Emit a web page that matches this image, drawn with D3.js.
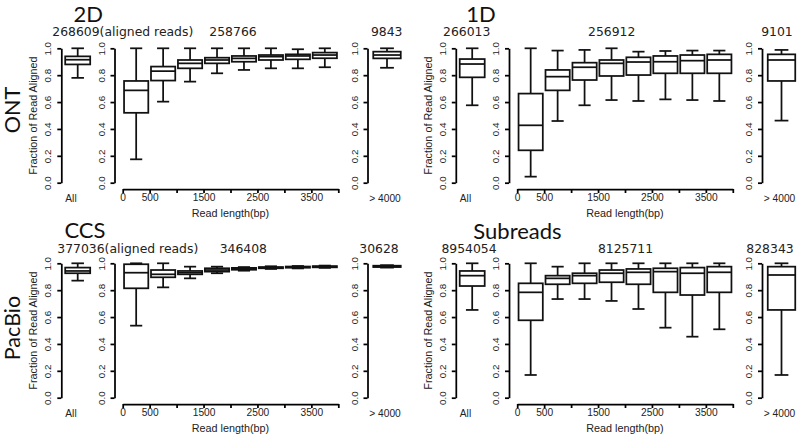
<!DOCTYPE html>
<html><head><meta charset="utf-8">
<script src="https://cdn.jsdelivr.net/npm/d3@7/dist/d3.min.js"></script>
<style>
body{margin:0;background:#fff;}
svg{display:block;}
.tk text{font-family:"Liberation Sans",Arial,sans-serif;}
</style></head>
<body>
<svg id="c" width="798" height="435"></svg>
<script>
// ---------------- DATA ----------------
const panelNames = ["2D", "1D", "CCS", "Subreads"];
const platformNames = ["ONT", "PacBio"];
const groupLabels = ["All", "0-500", "500-1000", "1000-1500", "1500-2000", "2000-2500", "2500-3000", "3000-3500", "3500-4000", "> 4000"];
const binCenters = [250, 750, 1250, 1750, 2250, 2750, 3250, 3750];
const yTicks = [0, 0.2, 0.4, 0.6, 0.8, 1.0];
const xTicks = [0, 500, 1000, 1500, 2000, 2500, 3000, 3500, 4000];
const xTickLabels = ["0", "500", "", "1500", "", "2500", "", "3500", ""];

// each row: [lower whisker, Q1, median, Q3, upper whisker]; All, 8 length bins, >4000
const stats2D = [
  [0.78, 0.88, 0.915, 0.94, 1.0],
  [0.174, 0.52, 0.687, 0.757, 1.0],
  [0.603, 0.76, 0.83, 0.864, 1.0],
  [0.752, 0.851, 0.888, 0.913, 1.0],
  [0.814, 0.888, 0.913, 0.93, 1.0],
  [0.839, 0.9, 0.925, 0.943, 1.0],
  [0.851, 0.913, 0.938, 0.95, 1.0],
  [0.851, 0.918, 0.943, 0.955, 0.993],
  [0.859, 0.926, 0.95, 0.968, 1.0],
  [0.855, 0.925, 0.95, 0.975, 1.0]
];
const stats1D = [
  [0.576, 0.784, 0.883, 0.92, 1.0],
  [0.045, 0.241, 0.427, 0.663, 1.0],
  [0.459, 0.687, 0.789, 0.839, 0.983],
  [0.576, 0.764, 0.859, 0.893, 0.988],
  [0.615, 0.794, 0.888, 0.913, 1.0],
  [0.608, 0.801, 0.898, 0.933, 0.975],
  [0.62, 0.814, 0.9, 0.943, 0.98],
  [0.615, 0.814, 0.908, 0.95, 0.983],
  [0.608, 0.814, 0.913, 0.955, 0.983],
  [0.462, 0.757, 0.913, 0.955, 0.988]
];
const statsCCS = [
  [0.871, 0.926, 0.943, 0.968, 1.0],
  [0.536, 0.814, 0.93, 0.993, 1.0],
  [0.821, 0.896, 0.918, 0.95, 1.0],
  [0.888, 0.918, 0.93, 0.943, 0.975],
  [0.926, 0.938, 0.95, 0.963, 0.975],
  [0.945, 0.952, 0.96, 0.966, 0.972],
  [0.958, 0.963, 0.968, 0.972, 0.978],
  [0.962, 0.967, 0.972, 0.976, 0.98],
  [0.966, 0.97, 0.975, 0.979, 0.983],
  [0.968, 0.972, 0.978, 0.982, 0.986]
];
const statsSubreads = [
  [0.653, 0.831, 0.908, 0.943, 1.0],
  [0.169, 0.576, 0.784, 0.851, 1.0],
  [0.734, 0.844, 0.888, 0.908, 0.975],
  [0.734, 0.851, 0.908, 0.926, 1.0],
  [0.72, 0.859, 0.926, 0.95, 1.0],
  [0.66, 0.844, 0.933, 0.958, 1.0],
  [0.521, 0.784, 0.938, 0.963, 1.0],
  [0.454, 0.764, 0.926, 0.968, 1.0],
  [0.509, 0.784, 0.933, 0.975, 1.0],
  [0.169, 0.653, 0.913, 0.975, 1.0]
];
const counts2D = ["268609(aligned reads)", "258766", "9843"];
const counts1D = ["266013", "256912", "9101"];
const countsCCS = ["377036(aligned reads)", "346408", "30628"];
const countsSubreads = ["8954054", "8125711", "828343"];

// ---------------- LAYOUT ----------------
const svg = d3.select("#c");
const panelStats = [stats2D, stats1D, statsCCS, statsSubreads];
const panelCounts = [counts2D, counts1D, countsCCS, countsSubreads];
const colOff = [0, 394.5];
const rowOff = [0, 215];
const titlePos = [[88.3, 21.5], [481, 21.5], [85, 238], [517.5, 238.5]];
const countPos = [
  [[52.3, "start"], [233, "middle"], [386.7, "middle"]],
  [[466.7, "middle"], [611.7, "middle"], [777, "middle"]],
  [[57.3, "start"], [243.3, "middle"], [379, "middle"]],
  [[469, "middle"], [625.5, "middle"], [770, "middle"]]
];
const countBase = [36.3, 36.3, 253, 253];
const AX = "Liberation Sans, Arial, sans-serif";
const SW = 1.75;

function drawBox(g, cx, w, s, y) {
  const [lo, q1, md, q3, hi] = s;
  const cap = w / 2;
  g.append("line").attr("x1", cx).attr("x2", cx).attr("y1", y(q3)).attr("y2", y(hi));
  g.append("line").attr("x1", cx).attr("x2", cx).attr("y1", y(q1)).attr("y2", y(lo));
  g.append("line").attr("x1", cx - cap / 2).attr("x2", cx + cap / 2).attr("y1", y(hi)).attr("y2", y(hi));
  g.append("line").attr("x1", cx - cap / 2).attr("x2", cx + cap / 2).attr("y1", y(lo)).attr("y2", y(lo));
  g.append("rect").attr("x", cx - w / 2).attr("width", w)
    .attr("y", y(q3)).attr("height", Math.max(0.01, y(q1) - y(q3))).attr("fill", "#fff");
  g.append("line").attr("x1", cx - w / 2).attr("x2", cx + w / 2).attr("y1", y(md)).attr("y2", y(md));
}

function yAxis(g, x, y) {
  const a = g.append("g").attr("class", "tk").attr("transform", `translate(${x},0)`)
    .call(d3.axisLeft(y).tickValues(yTicks).tickSize(4).tickSizeOuter(0).tickFormat(d3.format(".1f")));
  a.select(".domain").attr("stroke-width", SW);
  a.selectAll(".tick line").attr("stroke-width", SW);
  a.selectAll(".tick text").attr("x", null).attr("dy", null)
    .attr("transform", "translate(-10,0) rotate(-90)")
    .attr("text-anchor", "middle").attr("font-size", 9.8).attr("fill", "#222").attr("font-family", AX);
}

panelStats.forEach((stats, p) => {
  const cx0 = colOff[p % 2], ry = rowOff[Math.floor(p / 2)];
  const g = svg.append("g");
  const y = d3.scaleLinear().domain([0, 1]).range([182.7 + ry, 48.3 + ry]);
  const xMid = d3.scaleLinear().domain([0, 4000]).range([122.7 + cx0, 338.3 + cx0]);
  const xAll = d3.scalePoint().domain([groupLabels[0]]).range([77.7 + cx0, 77.7 + cx0]);
  const xBig = d3.scalePoint().domain([groupLabels[9]]).range([387 + cx0, 387 + cx0]);

  // y axes
  yAxis(g, 61.3 + cx0, y);
  yAxis(g, 114.5 + cx0, y);
  yAxis(g, 367.5 + cx0, y);

  // x axis for middle panel
  const xa = g.append("g").attr("class", "tk").attr("transform", `translate(0,${189 + ry})`)
    .call(d3.axisBottom(xMid).tickValues(xTicks).tickSize(4).tickSizeOuter(0)
      .tickFormat((d, i) => xTickLabels[i]));
  xa.select(".domain").attr("stroke-width", SW);
  xa.selectAll(".tick line").attr("stroke-width", SW);
  xa.selectAll(".tick text").attr("y", 4.5).attr("font-size", 10.2).attr("fill", "#222").attr("font-family", AX);

  // group labels
  g.append("text").attr("x", 71 + cx0).attr("y", 201.5 + ry).attr("text-anchor", "middle")
    .attr("font-family", AX).attr("font-size", 10.2).attr("fill", "#222").text(groupLabels[0]);
  g.append("text").attr("x", 385 + cx0).attr("y", 201.5 + ry).attr("text-anchor", "middle")
    .attr("font-family", AX).attr("font-size", 10.2).attr("fill", "#222").text(groupLabels[9]);
  g.append("text").attr("x", xMid(2000)).attr("y", 217 + ry).attr("text-anchor", "middle")
    .attr("font-family", AX).attr("font-size", 10.8).attr("fill", "#222").text("Read length(bp)");
  g.append("text").attr("transform", `translate(${61.3 + cx0 - 24},${115.5 + ry}) rotate(-90)`)
    .attr("text-anchor", "middle").attr("font-family", AX).attr("font-size", 10.8).attr("fill", "#222")
    .text("Fraction of Read Aligned");

  // boxes
  const bg = g.append("g").attr("stroke", "#111").attr("stroke-width", SW).attr("fill", "none");
  drawBox(bg, xAll(groupLabels[0]), 25, stats[0], y);
  binCenters.forEach((c, i) => drawBox(bg, xMid(c), xMid(450) - xMid(0), stats[i + 1], y));
  drawBox(bg, xBig(groupLabels[9]), 27.5, stats[9], y);

  // title
  g.append("text").attr("x", titlePos[p][0]).attr("y", titlePos[p][1]).attr("text-anchor", "middle")
    .attr("font-family", "Lato, 'Open Sans', sans-serif").attr("font-size", 22).attr("fill", "#111")
    .text(panelNames[p]);
  // counts
  panelCounts[p].forEach((t, i) => {
    g.append("text").attr("x", countPos[p][i][0]).attr("y", countBase[p])
      .attr("text-anchor", countPos[p][i][1]).attr("font-family", "DejaVu Sans, sans-serif")
      .attr("font-size", 12.4).attr("fill", "#222").text(t);
  });
});

// platform labels
svg.append("text").attr("transform", "translate(19.5,110) rotate(-90)").attr("text-anchor", "middle")
  .attr("font-family", "Lato, 'Open Sans', sans-serif").attr("font-size", 21.5).attr("fill", "#111").text(platformNames[0]);
svg.append("text").attr("transform", "translate(19.5,328) rotate(-90)").attr("text-anchor", "middle")
  .attr("font-family", "Lato, 'Open Sans', sans-serif").attr("font-size", 21.5).attr("fill", "#111").text(platformNames[1]);
</script>
</body></html>
